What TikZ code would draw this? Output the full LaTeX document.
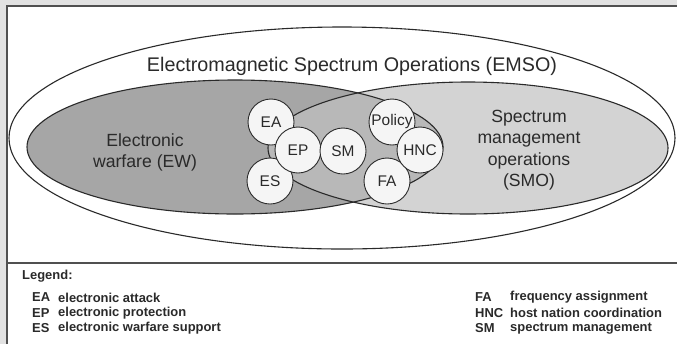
\documentclass[tikz,border=0pt]{standalone}
\usepackage{fontspec}
\setmainfont{Liberation Sans}
\definecolor{pagegray}{HTML}{E2E2E2}
\definecolor{framecol}{HTML}{505050}
\definecolor{ewgray}{HTML}{A6A6A6}
\definecolor{smogray}{HTML}{D3D3D3}
\definecolor{midgray}{HTML}{B8B8B8}
\definecolor{inkcol}{HTML}{2A2A2A}
\begin{document}
\begin{tikzpicture}[x=1bp,y=-1bp,
  lbl/.style={font=\fontsize{17.7}{21.5}\selectfont, align=center, text=inkcol, inner sep=0pt},
  circ/.style={circle, draw=inkcol, line width=0.9bp, fill=white!96!black, minimum size=46bp, inner sep=0pt, text=inkcol, font=\fontsize{15.5}{18}\selectfont},
  leg/.style={font=\bfseries\fontsize{13}{14}\selectfont, anchor=west, inner sep=0pt, text=inkcol},
  ring/.style={draw=inkcol, line width=1.1bp},
  ]
\useasboundingbox (0,0) rectangle (677,344);
\fill[pagegray] (0,0) rectangle (677,344);
\fill[white] (6,5) rectangle (677,344);
\draw[framecol, line width=1.6bp] (6.8,344) -- (6.8,5.8) -- (677,5.8);
\draw[framecol, line width=1.2bp] (7,263) -- (677,263);
% fills
\fill[ewgray] (235,147) ellipse [x radius=208bp, y radius=67bp];
\fill[smogray] (468,148) ellipse [x radius=200bp, y radius=66bp];
\begin{scope}
\clip (235,147) ellipse [x radius=208bp, y radius=67bp];
\fill[midgray] (468,148) ellipse [x radius=200bp, y radius=66bp];
\end{scope}
% outlines
\draw[ring] (342,138) ellipse [x radius=333bp, y radius=111bp];
\draw[ring] (235,147) ellipse [x radius=208bp, y radius=67bp];
\draw[ring] (468,148) ellipse [x radius=200bp, y radius=66bp];
% circles
\node[circ] (ea) at (271,122) {EA};
\node[circ] (es) at (270,181) {ES};
\node[circ] (ep) at (298,150) {EP};
\node[circ] (sm) at (343,151) {SM};
\node[circ] (policy) at (392,122) {Policy};
\node[circ] (fa) at (387,181) {FA};
\node[circ] (hnc) at (420,150) {HNC};
% labels
\node[lbl, font=\fontsize{19.8}{22}\selectfont] (emso) at (352,66) {Electromagnetic Spectrum Operations (EMSO)};
\node[lbl] (ew) at (145,152.5) {Electronic\\warfare (EW)};
\node[lbl] (smo) at (529,150) {Spectrum\\management\\operations\\(SMO)};
% legend
\node[leg] (legend) at (22,276) {Legend:};
\node[leg] (kea) at (32,297.5) {EA};
\node[leg] (dea) at (58,297.5) {electronic attack};
\node[leg] (kep) at (32,313) {EP};
\node[leg] (dep) at (58,313) {electronic protection};
\node[leg] (kes) at (32,328.5) {ES};
\node[leg] (des) at (58,328.5) {electronic warfare support};
\node[leg] (kfa) at (475,297.5) {FA};
\node[leg] (dfa) at (510,297.5) {frequency assignment};
\node[leg] (khnc) at (475,313) {HNC};
\node[leg] (dhnc) at (510,313) {host nation coordination};
\node[leg] (ksm) at (475,328.5) {SM};
\node[leg] (dsm) at (510,328.5) {spectrum management};
\end{tikzpicture}
\end{document}
